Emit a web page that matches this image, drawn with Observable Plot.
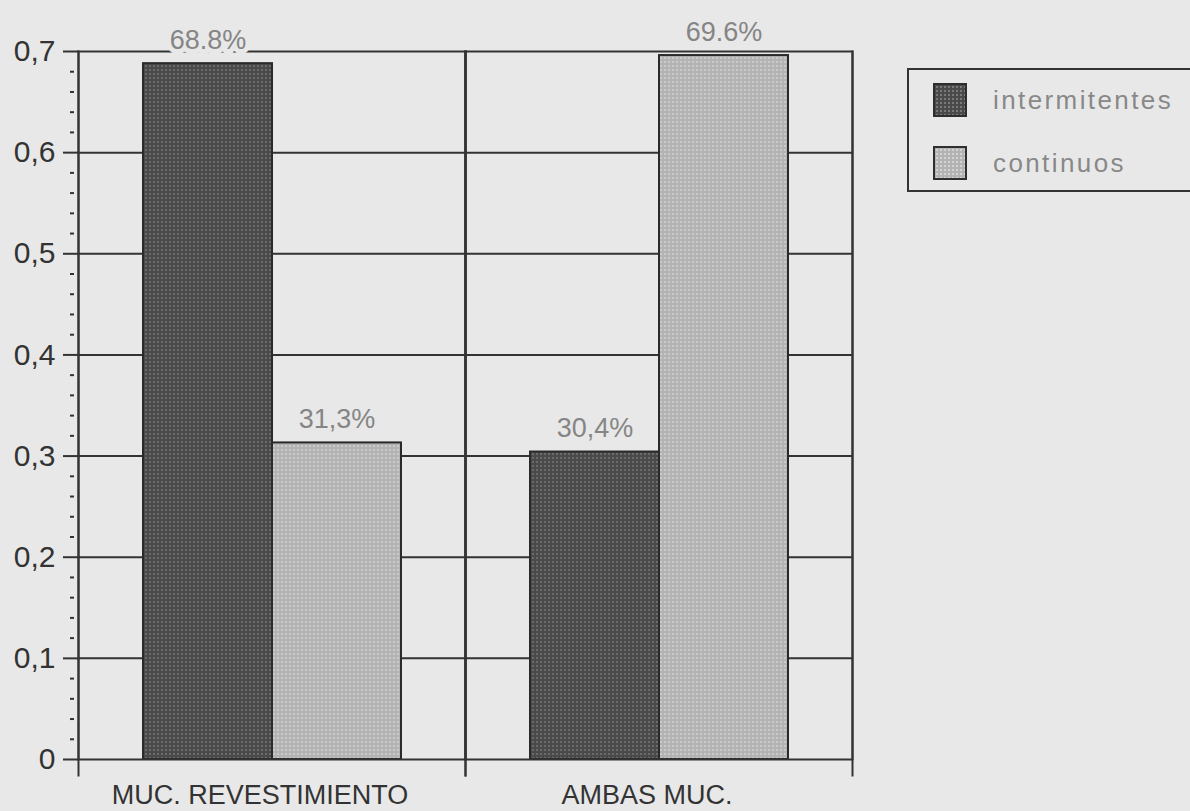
<!DOCTYPE html>
<html>
<head>
<meta charset="utf-8">
<script src="https://cdn.jsdelivr.net/npm/d3@7"></script>
<script src="https://cdn.jsdelivr.net/npm/@observablehq/plot@0.6"></script>
<style>
  html, body { margin: 0; padding: 0; background: #e8e8e8; }
  #wrap { position: relative; width: 1190px; height: 811px; overflow: hidden; }
  #legend {
    position: absolute; left: 907px; top: 68px; width: 310px; height: 124px;
    border: 2px solid #333; box-sizing: border-box;
    font-family: "Liberation Sans", Arial, sans-serif; font-size: 26px;
    color: #888; letter-spacing: 2.4px;
  }
  #legend .item { position: absolute; left: 24px; display: flex; align-items: center; }
  #legend .sw { width: 34px; height: 34px; border: 2px solid #2e2e2e; box-sizing: border-box; margin-right: 26px; }
  .sw.dark { background-color: #4a4a4a; background-image: radial-gradient(circle, #7a7a7a 1px, transparent 1.3px); background-size: 4px 4px; }
  .sw.light { background-color: #b3b3b3; background-image: radial-gradient(circle, #d2d2d2 1px, transparent 1.3px); background-size: 4px 4px; }
</style>
</head>
<body>
<div id="wrap">
  <div id="chart"></div>
  <div id="legend"></div>
</div>
<script>
// Categories (mucosa type) and series (pattern of the finding)
const categories = ["MUC. REVESTIMIENTO", "AMBAS MUC."];
const series = ["intermitentes", "continuos"];

// Proportion per category, in series order
const revestimiento = [0.688, 0.313];
const ambas = [0.304, 0.696];

// Printed labels above each bar
const labelsRevestimiento = ["68.8%", "31,3%"];
const labelsAmbas = ["30,4%", "69.6%"];

// Axis tick values
const majorTicks = [0, 0.1, 0.2, 0.3, 0.4, 0.5, 0.6, 0.7];
const gridTicks = [0.1, 0.2, 0.3, 0.4, 0.5, 0.6];
const minorTicks = [0.02, 0.04, 0.06, 0.08, 0.12, 0.14, 0.16, 0.18, 0.22, 0.24, 0.26, 0.28,
  0.32, 0.34, 0.36, 0.38, 0.42, 0.44, 0.46, 0.48, 0.52, 0.54, 0.56, 0.58, 0.62, 0.64, 0.66, 0.68];

// Halftone fills for each series
const patternIds = {intermitentes: "url(#dots-dark)", continuos: "url(#dots-light)"};

const rows = [];
[[categories[0], revestimiento, labelsRevestimiento], [categories[1], ambas, labelsAmbas]].forEach(([cat, vals, labs]) => {
  series.forEach((s, i) => rows.push({category: cat, series: s, value: vals[i], label: labs[i]}));
});

const bg = "#e8e8e8";
const ink = "#333";
const font = "'Liberation Sans', Arial, sans-serif";

const chart = Plot.plot({
  width: 1190,
  height: 811,
  marginLeft: 78,
  marginRight: 338,
  marginTop: 51,
  marginBottom: 52,
  style: {background: "transparent", fontFamily: font, color: ink},
  y: {domain: [0, 0.7]},
  fx: {domain: categories, padding: 0, label: null},
  x: {domain: series, paddingInner: 0, paddingOuter: 0.49, axis: null},
  color: {type: "identity"},
  marks: [
    Plot.ruleY(gridTicks, {stroke: ink, strokeWidth: 2}),
    Plot.barY(rows, {fx: "category", x: "series", y: "value", fill: d => patternIds[d.series], stroke: "#2a2a2a", strokeWidth: 2}),
    Plot.frame({stroke: ink, strokeWidth: 2}),
    Plot.frame({anchor: "left", stroke: ink, strokeWidth: 2, insetBottom: -16}),
    Plot.frame({anchor: "right", stroke: ink, strokeWidth: 2, insetBottom: -16}),
    Plot.text(rows, {
      fx: "category", x: "series", y: "value", text: "label",
      lineAnchor: "bottom", dy: -15, fontSize: 27, fill: "#858585",
      stroke: bg, strokeWidth: 10, style: "letter-spacing: 2.5px"
    }),
    Plot.axisY({
      ticks: majorTicks, tickSize: 15, tickPadding: 8, strokeWidth: 2, fontSize: 30, label: null,
      tickFormat: d => d === 0 ? "0" : d.toFixed(1).replace(".", ",")
    }),
    Plot.axisY({ticks: minorTicks, tickSize: 4, dx: -4, strokeWidth: 2, tickFormat: () => "", label: null}),
    Plot.axisFx({anchor: "bottom", tickSize: 0, tickPadding: 25, dx: -12, fontSize: 27, label: null})
  ]
});

// Dot patterns used by the bar fills
const defs = d3.select(chart).insert("defs", ":first-child");
[["dots-dark", "#4a4a4a", "#767676"], ["dots-light", "#b3b3b3", "#d2d2d2"]].forEach(([id, base, dot]) => {
  const p = defs.append("pattern").attr("id", id).attr("patternUnits", "userSpaceOnUse").attr("width", 4).attr("height", 4);
  p.append("rect").attr("width", 4).attr("height", 4).attr("fill", base);
  p.append("circle").attr("cx", 2).attr("cy", 2).attr("r", 1).attr("fill", dot);
});

document.getElementById("chart").appendChild(chart);

// Legend
const legend = d3.select("#legend");
series.forEach((s, i) => {
  const item = legend.append("div").attr("class", "item").style("top", (i === 0 ? 13 : 76) + "px");
  item.append("div").attr("class", "sw " + (i === 0 ? "dark" : "light"));
  item.append("span").text(s);
});
</script>
</body>
</html>
